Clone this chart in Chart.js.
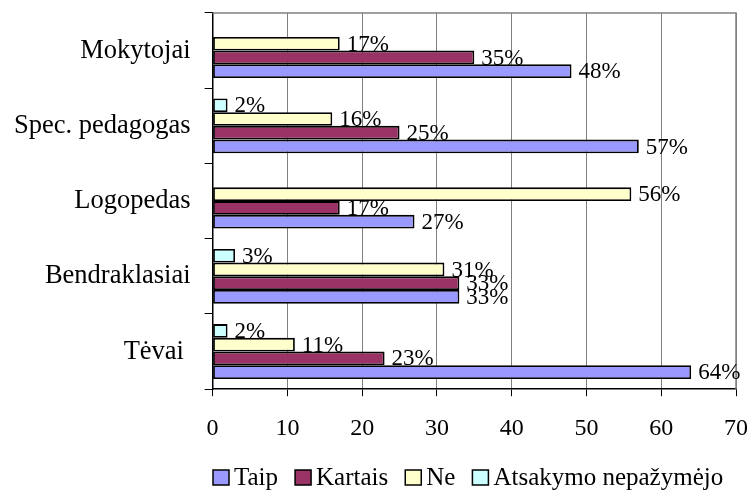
<!DOCTYPE html>
<html lang="lt">
<head>
    <meta charset="UTF-8">
    <title>Pagalba</title>
    <script src="https://cdn.jsdelivr.net/npm/chart.js"></script>
    <style>
        html, body { margin: 0; padding: 0; background: #ffffff; }
        #wrap { width: 751px; height: 490px; position: relative; }
    </style>
</head>
<body>
    <div id="wrap"><canvas id="chart"></canvas></div>

    <script>
        // duomenys (kategorijos iš viršaus į apačią)
        const categories = ['Mokytojai', 'Spec. pedagogas', 'Logopedas', 'Bendraklasiai', 'Tėvai '];
        const seriesNames = ['Taip', 'Kartais', 'Ne', 'Atsakymo nepažymėjo'];
        const taip = [48, 57, 27, 33, 64];
        const kartais = [35, 25, 17, 33, 23];
        const ne = [17, 16, 56, 31, 11];
        const nepazymejo = [null, 2, null, 3, 2];
        const xTicks = [0, 10, 20, 30, 40, 50, 60, 70];

        const colors = ['#9999FF', '#993366', '#FFFFCC', '#CCFFFF'];
        const serif = '"Liberation Serif", "Times New Roman", serif';

        function makeSet(idx, values) {
            return {
                label: seriesNames[idx],
                data: values,
                backgroundColor: colors[idx],
                borderColor: '#000000',
                borderWidth: 1.8,
                borderSkipped: false
            };
        }

        // reikšmių užrašai prie stulpelių
        const valueLabels = {
            id: 'valueLabels',
            afterDatasetsDraw(chart) {
                const ctx = chart.ctx;
                ctx.save();
                ctx.font = '23px ' + serif;
                ctx.fillStyle = '#000';
                ctx.textAlign = 'left';
                ctx.textBaseline = 'middle';
                chart.data.datasets.forEach((ds, i) => {
                    const meta = chart.getDatasetMeta(i);
                    meta.data.forEach((bar, j) => {
                        const v = ds.data[j];
                        if (v == null) return;
                        ctx.fillText(v + '%', bar.x + 7, bar.y + 1);
                    });
                });
                ctx.restore();
            }
        };

        // pilkas brėžinio rėmelis viršuje ir dešinėje
        const plotFrame = {
            id: 'plotFrame',
            beforeDatasetsDraw(chart) {
                const a = chart.chartArea;
                const ctx = chart.ctx;
                ctx.save();
                ctx.strokeStyle = '#808080';
                ctx.lineWidth = 1.5;
                ctx.beginPath();
                ctx.moveTo(a.left, a.top);
                ctx.lineTo(a.right, a.top);
                ctx.lineTo(a.right, a.bottom);
                ctx.stroke();
                ctx.restore();
            }
        };

        // legenda apačioje
        const bottomLegend = {
            id: 'bottomLegend',
            afterDraw(chart) {
                const ctx = chart.ctx;
                ctx.save();
                ctx.font = '25px ' + serif;
                ctx.textBaseline = 'alphabetic';
                let x = 213;
                const base = 485;
                seriesNames.forEach((name, i) => {
                    ctx.fillStyle = colors[i];
                    ctx.fillRect(x, 470, 16, 15);
                    ctx.strokeStyle = '#000';
                    ctx.lineWidth = 1.5;
                    ctx.strokeRect(x, 470, 16, 15);
                    ctx.fillStyle = '#000';
                    ctx.fillText(name, x + 21, base);
                    x += 21 + ctx.measureText(name).width + 17;
                });
                ctx.restore();
            }
        };

        // be papildomų paraščių dėl užrašų pusės aukščio / pločio
        function noEdgePadding(scale) {
            scale.paddingTop = 0;
            scale.paddingBottom = 0;
            scale.paddingLeft = 0;
            scale.paddingRight = 0;
        }

        const ctx = document.getElementById('chart').getContext('2d');
        const chart = new Chart(ctx, {
            type: 'bar',
            data: {
                labels: categories,
                datasets: [
                    makeSet(3, nepazymejo),
                    makeSet(2, ne),
                    makeSet(1, kartais),
                    makeSet(0, taip)
                ]
            },
            options: {
                indexAxis: 'y',
                responsive: true,
                maintainAspectRatio: false,
                animation: false,
                categoryPercentage: 0.73,
                barPercentage: 1.0,
                layout: {
                    padding: { left: 0, right: 15, top: 13, bottom: 29 }
                },
                plugins: {
                    legend: { display: false },
                    tooltip: { enabled: false }
                },
                scales: {
                    x: {
                        min: 0,
                        max: 70,
                        afterBuildTicks(scale) {
                            scale.ticks = xTicks.map(v => ({ value: v }));
                        },
                        afterFit: noEdgePadding,
                        grid: {
                            color: '#808080',
                            lineWidth: 1,
                            tickColor: '#000000',
                            tickLength: 7
                        },
                        border: { display: true, color: '#000000', width: 1.5 },
                        ticks: {
                            padding: 18,
                            color: '#000',
                            font: { family: serif, size: 24 }
                        }
                    },
                    y: {
                        afterFit: noEdgePadding,
                        grid: {
                            drawOnChartArea: false,
                            tickColor: '#000000',
                            tickLength: 8
                        },
                        border: { display: true, color: '#000000', width: 1.5 },
                        ticks: {
                            padding: 14,
                            color: '#000',
                            font: { family: serif, size: 26.5 }
                        }
                    }
                }
            },
            plugins: [plotFrame, valueLabels, bottomLegend]
        });
    </script>
</body>
</html>
